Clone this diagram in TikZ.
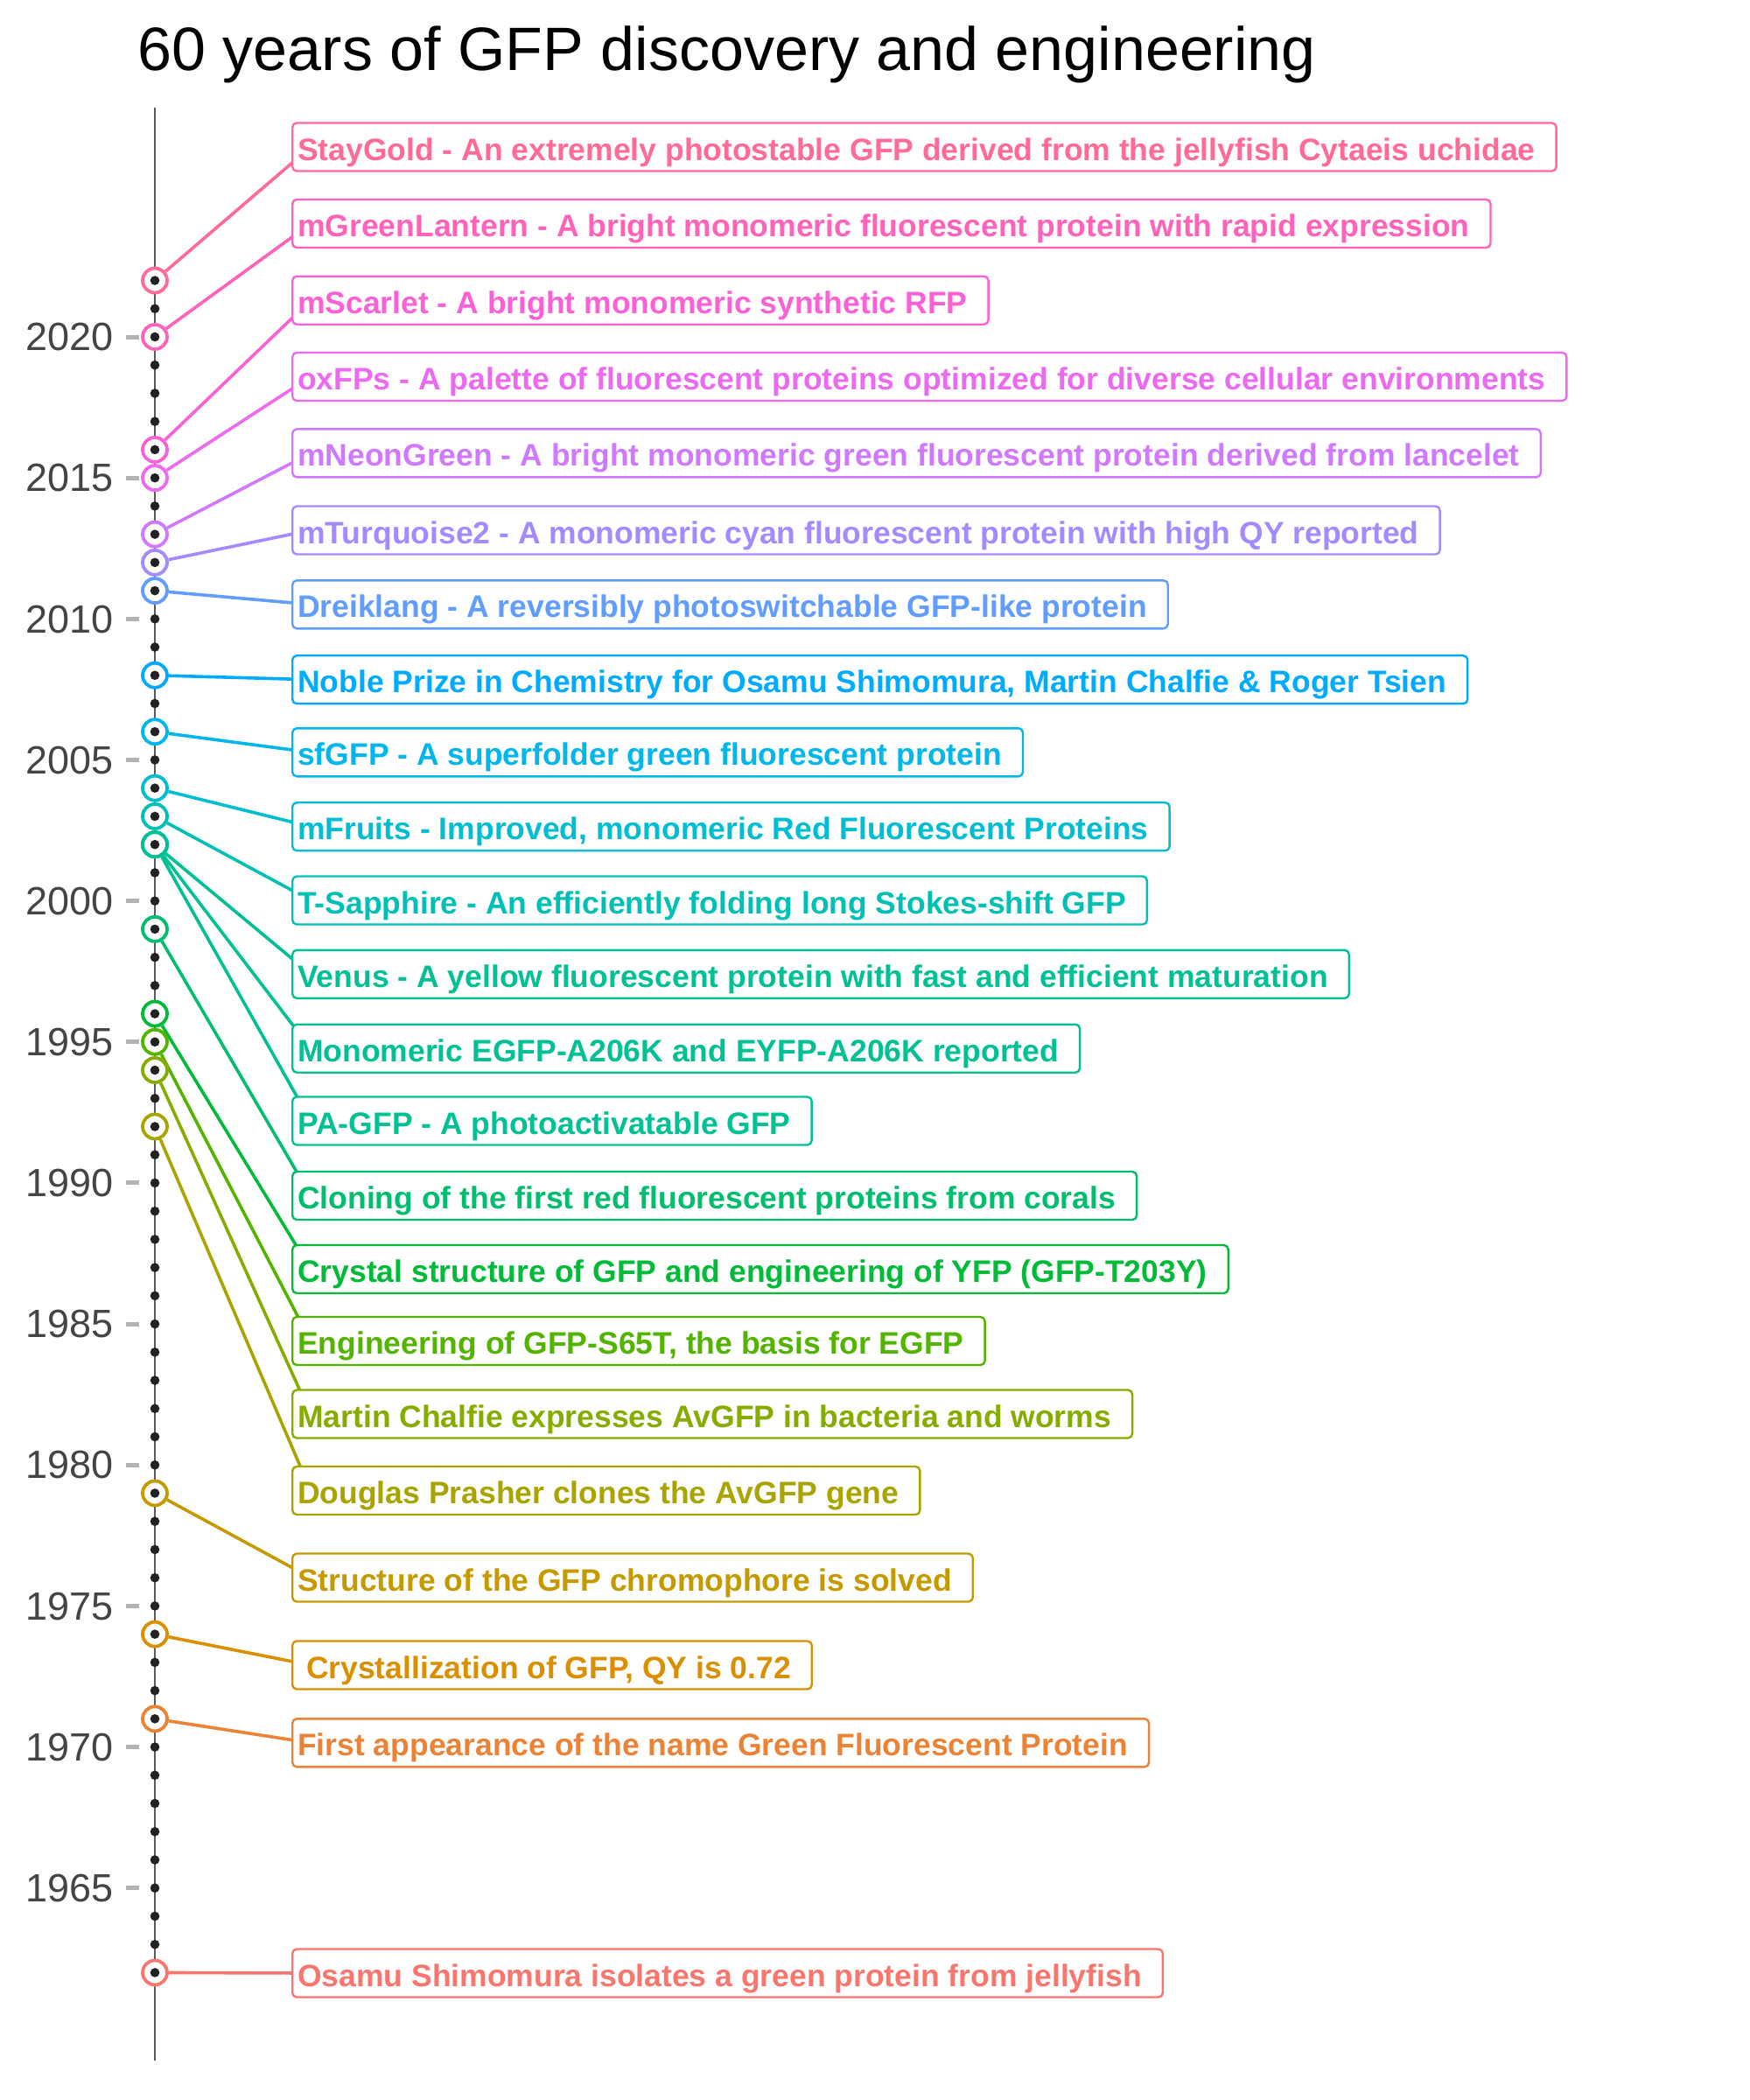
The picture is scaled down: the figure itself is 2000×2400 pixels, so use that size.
\documentclass[tikz,border=0pt]{standalone}
\usepackage{fontspec}
\setmainfont{Liberation Sans}
\usetikzlibrary{calc}
\pgfdeclarelayer{background}
\pgfsetlayers{background,main}
\newdimen\px \px=0.3pt
% ggplot2 hue palette (HCL, c=100, l=65), one colour per year (21 years)
\newcommand\mkhue[2]{%
 \pgfmathsetmacro\hU{100*cos(#2)/845+0.19784}%
 \pgfmathsetmacro\hV{100*sin(#2)/845+0.46834}%
 \pgfmathsetmacro\hY{0.34047}%
 \pgfmathsetmacro\hX{9*\hY*\hU/(4*\hV)}%
 \pgfmathsetmacro\hZ{\hY*(12-3*\hU-20*\hV)/(4*\hV)}%
 \pgfmathsetmacro\hR{3.240479*\hX-1.537150*\hY-0.498535*\hZ}%
 \pgfmathsetmacro\hG{-0.969256*\hX+1.875992*\hY+0.041556*\hZ}%
 \pgfmathsetmacro\hB{0.055648*\hX-0.204043*\hY+1.057311*\hZ}%
 \pgfmathsetmacro\hR{(\hR<0.0031308)?(12.92*max(\hR,0)):(1.055*pow(max(\hR,0.0031308),1/2.4)-0.055)}%
 \pgfmathsetmacro\hG{(\hG<0.0031308)?(12.92*max(\hG,0)):(1.055*pow(max(\hG,0.0031308),1/2.4)-0.055)}%
 \pgfmathsetmacro\hB{(\hB<0.0031308)?(12.92*max(\hB,0)):(1.055*pow(max(\hB,0.0031308),1/2.4)-0.055)}%
 \pgfmathsetmacro\hR{min(1,max(0,\hR))}%
 \pgfmathsetmacro\hG{min(1,max(0,\hG))}%
 \pgfmathsetmacro\hB{min(1,max(0,\hB))}%
 \edef\tmpdef{\noexpand\definecolor{#1}{rgb}{\hR,\hG,\hB}}\tmpdef}
\mkhue{h1}{15}       % 1962
\mkhue{h2}{32.143}   % 1971
\mkhue{h3}{49.286}   % 1974
\mkhue{h4}{66.429}   % 1979
\mkhue{h5}{83.571}   % 1992
\mkhue{h6}{100.714}  % 1994
\mkhue{h7}{117.857}  % 1995
\mkhue{h8}{135}      % 1996
\mkhue{h9}{152.143}  % 1999
\mkhue{h10}{169.286} % 2002
\mkhue{h11}{169.286} % 2002
\mkhue{h12}{169.286} % 2002
\mkhue{h13}{186.429} % 2003
\mkhue{h14}{203.571} % 2004
\mkhue{h15}{220.714} % 2006
\mkhue{h16}{237.857} % 2008
\mkhue{h17}{255}     % 2011
\mkhue{h18}{272.143} % 2012
\mkhue{h19}{289.286} % 2013
\mkhue{h20}{306.429} % 2015
\mkhue{h21}{323.571} % 2016
\mkhue{h22}{340.714} % 2020
\mkhue{h23}{357.857} % 2022
\definecolor{axc}{HTML}{444444}
\definecolor{tickc}{HTML}{B3B3B3}
\definecolor{linec}{HTML}{5A5A5A}
\definecolor{dotc}{HTML}{222222}
\newcommand\lblfont{\fontsize{10.65pt}{12pt}\selectfont\bfseries}
\newcommand\tickfont{\fontsize{13.5pt}{15pt}\selectfont}
\newcommand\titlefont{\fontsize{21pt}{24pt}\selectfont}
\newcommand\yy[1]{385+(2020-#1)*32.231}
\tikzset{
 evbox/.style={draw=#1, text=#1, fill=white, line width=2.4\px, rounded corners=5\px,
   anchor=west, inner xsep=0pt, inner ysep=0pt, minimum height=55\px,
   text height=30\px, text depth=0pt, font=\lblfont},
 evpt/.style={circle, draw=#1, fill=white, line width=3.8\px, minimum size=28\px, inner sep=0pt},
 evlink/.style={draw=#1, line width=3.6\px},
 ticklbl/.style={anchor=east, inner sep=0pt, text=axc, font=\tickfont, text depth=0pt},
}
\newcommand\lbl[1]{\kern6\px #1\kern24\px}
\begin{document}
\begin{tikzpicture}[x=0.3pt,y=-0.3pt]
\useasboundingbox (0,0) rectangle (2000,2400);
% title
\node[anchor=base west, inner sep=0pt, font=\titlefont] (title) at (157,80) {60 years of GFP discovery and engineering};
% axis
\draw[linec, line width=1.8\px] (177,123) -- (177,2355);
\foreach \yr in {1965,1970,...,2020}{
  \draw[tickc, line width=5\px] (144,{\yy{\yr}}) -- (159,{\yy{\yr}});
  \node[ticklbl] (t\yr) at (130,{\yy{\yr}}) {\yr};
}
% event points
\node[evpt=h23] (p23) at (177,{\yy{2022}}) {};
\node[evpt=h22] (p22) at (177,{\yy{2020}}) {};
\node[evpt=h21] (p21) at (177,{\yy{2016}}) {};
\node[evpt=h20] (p20) at (177,{\yy{2015}}) {};
\node[evpt=h19] (p19) at (177,{\yy{2013}}) {};
\node[evpt=h18] (p18) at (177,{\yy{2012}}) {};
\node[evpt=h17] (p17) at (177,{\yy{2011}}) {};
\node[evpt=h16] (p16) at (177,{\yy{2008}}) {};
\node[evpt=h15] (p15) at (177,{\yy{2006}}) {};
\node[evpt=h14] (p14) at (177,{\yy{2004}}) {};
\node[evpt=h13] (p13) at (177,{\yy{2003}}) {};
\node[evpt=h12] (p12) at (177,{\yy{2002}}) {};
\node[evpt=h11] (p11) at (177,{\yy{2002}}) {};
\node[evpt=h10] (p10) at (177,{\yy{2002}}) {};
\node[evpt=h9] (p9) at (177,{\yy{1999}}) {};
\node[evpt=h8] (p8) at (177,{\yy{1996}}) {};
\node[evpt=h7] (p7) at (177,{\yy{1995}}) {};
\node[evpt=h6] (p6) at (177,{\yy{1994}}) {};
\node[evpt=h5] (p5) at (177,{\yy{1992}}) {};
\node[evpt=h4] (p4) at (177,{\yy{1979}}) {};
\node[evpt=h3] (p3) at (177,{\yy{1974}}) {};
\node[evpt=h2] (p2) at (177,{\yy{1971}}) {};
\node[evpt=h1] (p1) at (177,{\yy{1962}}) {};
% yearly dots
\foreach \yr in {1962,...,2022}{
  \fill[dotc] (177,{\yy{\yr}}) circle (5.3\px);
}
% labels
\node[evbox=h1] (b1) at (333,2255) {\lbl{Osamu Shimomura isolates a green protein from jellyfish}};
\node[evbox=h2] (b2) at (333,1991.8) {\lbl{First appearance of the name Green Fluorescent Protein}};
\node[evbox=h3] (b3) at (333,1903) {\lbl{\ Crystallization of GFP, QY is 0.72}};
\node[evbox=h4] (b4) at (333,1803) {\lbl{Structure of the GFP chromophore is solved}};
\node[evbox=h5] (b5) at (333,1703.5) {\lbl{Douglas Prasher clones the AvGFP gene}};
\node[evbox=h6] (b6) at (333,1616) {\lbl{Martin Chalfie expresses AvGFP in bacteria and worms}};
\node[evbox=h7] (b7) at (333,1532.5) {\lbl{Engineering of GFP-S65T, the basis for EGFP}};
\node[evbox=h8] (b8) at (333,1450.5) {\lbl{Crystal structure of GFP and engineering of YFP (GFP-T203Y)}};
\node[evbox=h9] (b9) at (333,1366.5) {\lbl{Cloning of the first red fluorescent proteins from corals}};
\node[evbox=h10] (b10) at (333,1281) {\lbl{PA-GFP - A photoactivatable GFP}};
\node[evbox=h11] (b11) at (333,1198.2) {\lbl{Monomeric EGFP-A206K and EYFP-A206K reported}};
\node[evbox=h12] (b12) at (333,1113.3) {\lbl{Venus - A yellow fluorescent protein with fast and efficient maturation}};
\node[evbox=h13] (b13) at (333,1029) {\lbl{T-Sapphire - An efficiently folding long Stokes-shift GFP}};
\node[evbox=h14] (b14) at (333,944.7) {\lbl{mFruits - Improved, monomeric Red Fluorescent Proteins}};
\node[evbox=h15] (b15) at (333,859.8) {\lbl{sfGFP - A superfolder green fluorescent protein}};
\node[evbox=h16] (b16) at (333,776.7) {\lbl{Noble Prize in Chemistry for Osamu Shimomura, Martin Chalfie \& Roger Tsien}};
\node[evbox=h17] (b17) at (333,690.8) {\lbl{Dreiklang - A reversibly photoswitchable GFP-like protein}};
\node[evbox=h18] (b18) at (333,606) {\lbl{mTurquoise2 - A monomeric cyan fluorescent protein with high QY reported}};
\node[evbox=h19] (b19) at (333,517.9) {\lbl{mNeonGreen - A bright monomeric green fluorescent protein derived from lancelet}};
\node[evbox=h20] (b20) at (333,430.5) {\lbl{oxFPs - A palette of fluorescent proteins optimized for diverse cellular environments}};
\node[evbox=h21] (b21) at (333,343.2) {\lbl{mScarlet - A bright monomeric synthetic RFP}};
\node[evbox=h22] (b22) at (333,255.5) {\lbl{mGreenLantern - A bright monomeric fluorescent protein with rapid expression}};
\node[evbox=h23] (b23) at (333,168) {\lbl{StayGold - An extremely photostable GFP derived from the jellyfish Cytaeis uchidae}};
% connectors
\begin{pgfonlayer}{background}
\foreach \i in {1,...,23}{
  \draw[evlink=h\i] (p\i) -- ($(b\i.west)+(22,0)$);
}
\end{pgfonlayer}
\end{tikzpicture}
\end{document}
